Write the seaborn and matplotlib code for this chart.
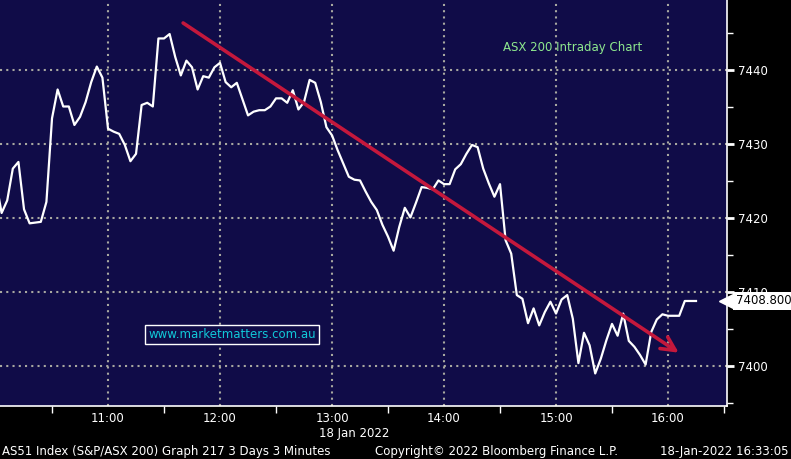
import pandas as pd
import numpy as np
import matplotlib
matplotlib.use("Agg")
import matplotlib.pyplot as plt
import matplotlib.dates as mdates
import matplotlib.transforms as mtransforms
import seaborn as sns

# ASX 200 intraday, 3-minute closes, 18 Jan 2022
start_time = "2022-01-18 10:00"
step_minutes = 3
prices = [
    7424.9, 7420.7, 7422.4, 7426.7, 7427.6, 7421.2, 7419.3, 7419.4, 7419.5, 7422.2,
    7433.5, 7437.4, 7435.1, 7435.1, 7432.6, 7433.7, 7435.7, 7438.4, 7440.5, 7439.0,
    7432.1, 7431.7, 7431.4, 7429.9, 7427.7, 7428.7, 7435.3, 7435.6, 7435.1, 7444.3,
    7444.3, 7444.9, 7441.8, 7439.3, 7441.3, 7440.4, 7437.4, 7439.2, 7439.0, 7440.4,
    7441.0, 7438.4, 7437.7, 7438.3, 7436.1, 7433.9, 7434.4, 7434.6, 7434.6, 7435.1,
    7436.2, 7436.2, 7435.6, 7437.3, 7434.7, 7435.7, 7438.7, 7438.3, 7435.7, 7432.3,
    7431.2, 7429.2, 7427.4, 7425.6, 7425.2, 7425.1, 7423.6, 7422.2, 7421.1, 7419.1,
    7417.5, 7415.6, 7418.8, 7421.4, 7420.1, 7422.1, 7424.2, 7424.1, 7423.9, 7425.1,
    7424.6, 7424.6, 7426.6, 7427.3, 7428.7, 7429.9, 7429.6, 7426.7, 7424.7, 7422.9,
    7424.6, 7417.0, 7415.2, 7409.6, 7409.1, 7405.8, 7407.8, 7405.5, 7407.3, 7408.7,
    7407.1, 7409.0, 7409.6, 7406.4, 7400.4, 7404.5, 7402.8, 7399.0, 7401.0, 7403.5,
    7405.7, 7404.1, 7407.1, 7403.4, 7402.6, 7401.5, 7400.2, 7404.6, 7406.3, 7407.0,
    7406.8, 7406.8, 7406.8, 7408.8, 7408.8, 7408.8,
]
last_price = 7408.8

# hand drawn trend arrow (time, level)
trend_start = ("2022-01-18 11:39", 7446.6)
trend_end = ("2022-01-18 16:07", 7401.6)

x_range = ("2022-01-18 10:02:08", "2022-01-18 16:31:36")
y_range = (7394.6, 7449.5)
y_ticks = [7400, 7410, 7420, 7430, 7440]

df = pd.DataFrame({
    "time": pd.date_range(start_time, periods=len(prices), freq=f"{step_minutes}min"),
    "price": prices,
})

navy = "#100c48"
grid_col = "#a8a8a0"

fig = plt.figure(figsize=(7.91, 4.59), dpi=100, facecolor="black")
ax = fig.add_axes([0, 53 / 459, 727 / 791, 406 / 459])
ax.set_facecolor(navy)

sns.lineplot(data=df, x="time", y="price", ax=ax, color="white", linewidth=1.6)

ax.set_xlim(pd.Timestamp(x_range[0]), pd.Timestamp(x_range[1]))
ax.set_ylim(*y_range)

# axes, ticks
for s in ["top", "left"]:
    ax.spines[s].set_visible(False)
for s in ["right", "bottom"]:
    ax.spines[s].set_color("white")
    ax.spines[s].set_linewidth(1.2)

ax.yaxis.tick_right()
ax.set_yticks(y_ticks)
ax.set_yticks([v + 5 for v in [y_ticks[0] - 10] + y_ticks], minor=True)
ax.xaxis.set_major_locator(mdates.HourLocator())
ax.xaxis.set_minor_locator(mdates.MinuteLocator(byminute=[30]))
ax.xaxis.set_major_formatter(mdates.DateFormatter("%H:%M"))
ax.tick_params(axis="y", which="major", colors="white", length=5, width=2, pad=3, labelsize=8.5)
ax.tick_params(axis="y", which="minor", colors="white", length=4, width=1)
ax.tick_params(axis="x", which="major", colors="white", length=0, pad=4, labelsize=8.5)
ax.tick_params(axis="x", which="minor", colors="white", length=5, width=1)
ax.set_xlabel("")
ax.set_ylabel("")
ax.grid(True, which="major", color=grid_col, linestyle=(0, (1, 2)), linewidth=1.5)

# trend arrow
ax.annotate("", xy=(pd.Timestamp(trend_end[0]), trend_end[1]),
            xytext=(pd.Timestamp(trend_start[0]), trend_start[1]),
            arrowprops=dict(arrowstyle="->,head_length=1.0,head_width=0.5",
                            color="#c4183c", lw=2.6))

ax.text(0.788, 0.882, "ASX 200 Intraday Chart", transform=ax.transAxes,
        color="#8ee88e", fontsize=8.5, ha="center", va="center")
ax.text(0.319, 0.176, "www.marketmatters.com.au", transform=ax.transAxes,
        color="#10c8d8", fontsize=8.5, ha="center", va="center",
        bbox=dict(boxstyle="square,pad=0.25", facecolor=navy, edgecolor="white", lw=1))

# last price tag (white pointer + box)
edge = mtransforms.blended_transform_factory(ax.transAxes, ax.transData)
ax.plot([1.0], [last_price], marker="<", markersize=11, color="white",
        transform=edge, clip_on=False, zorder=5)
ax.text(1.012, last_price, f"{last_price:.3f}", transform=edge, color="black",
        fontsize=8.5, ha="left", va="center", zorder=6, clip_on=False,
        bbox=dict(boxstyle="square,pad=0.22", facecolor="white", edgecolor="none"))

fig.text(354 / 791, 1 - 433 / 459, "18 Jan 2022", color="white", fontsize=8.5,
         ha="center", va="center")
fig.text(2 / 791, 1 - 451 / 459, "AS51 Index (S&P/ASX 200) Graph 217 3 Days 3 Minutes",
         color="white", fontsize=8.5, ha="left", va="center")
fig.text(375 / 791, 1 - 451 / 459, "Copyright\u00a9 2022 Bloomberg Finance L.P.",
         color="white", fontsize=8.5, ha="left", va="center")
fig.text(789 / 791, 1 - 451 / 459, "18-Jan-2022 16:33:05",
         color="white", fontsize=8.5, ha="right", va="center")

fig.savefig("out.png", dpi=100, facecolor=fig.get_facecolor())
